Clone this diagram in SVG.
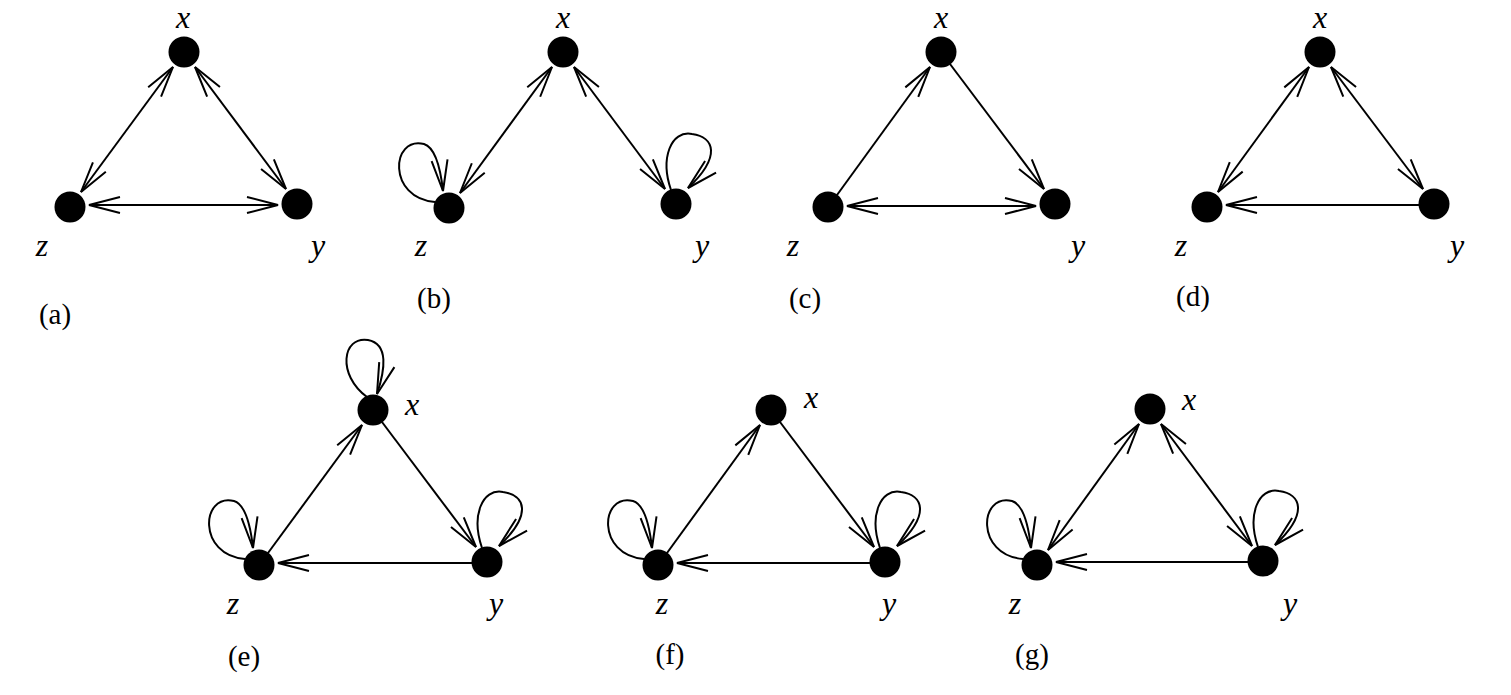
<svg xmlns="http://www.w3.org/2000/svg" width="1511" height="695" viewBox="0 0 1511 695">
<style>
.edge{fill:none;stroke:#000;stroke-width:2}
.node{fill:#000}
.lbl{font-family:"Liberation Serif",serif;font-style:italic;font-size:32px;text-anchor:middle;fill:#000}
.cap{font-family:"Liberation Serif",serif;font-size:29px;text-anchor:middle;fill:#000}
</style>
<defs>
<marker id="ah" markerUnits="userSpaceOnUse" viewBox="-34 -10 36 20" refX="0" refY="0" markerWidth="36" markerHeight="20" orient="auto-start-reverse" overflow="visible">
<path d="M -31 -8 L 0 0 L -31 8" fill="none" stroke="#000" stroke-width="2"/>
</marker>
</defs>
<rect width="1511" height="695" fill="#fff"/>
<g id="connectors">
<!-- (a) -->
<path class="edge" d="M 173 67 L 81 192" marker-start="url(#ah)" marker-end="url(#ah)"/>
<path class="edge" d="M 195 67 L 286 189" marker-start="url(#ah)" marker-end="url(#ah)"/>
<path class="edge" d="M 89 205 L 278 205" marker-start="url(#ah)" marker-end="url(#ah)"/>
<!-- (b) -->
<path class="edge" d="M 552 67 L 460 193" marker-start="url(#ah)" marker-end="url(#ah)"/>
<path class="edge" d="M 574 67 L 665 189" marker-start="url(#ah)" marker-end="url(#ah)"/>
<path class="edge" transform="translate(449,208)" d="M -14 -6 C -62 -10 -58 -72 -25 -64 C -12 -60 -8 -35 -6 -17" marker-end="url(#ah)"/>
<path class="edge" transform="translate(676,204)" d="M -5 -14 C -16 -46 -5 -74 16 -70 C 38 -67 46 -48 12 -16" marker-end="url(#ah)"/>
<!-- (c) -->
<path class="edge" d="M 837 195 L 930 67" marker-end="url(#ah)"/>
<path class="edge" d="M 950 64 L 1044 189" marker-end="url(#ah)"/>
<path class="edge" d="M 847 206 L 1036 206" marker-start="url(#ah)" marker-end="url(#ah)"/>
<!-- (d) -->
<path class="edge" d="M 1309 67 L 1218 192" marker-start="url(#ah)" marker-end="url(#ah)"/>
<path class="edge" d="M 1331 67 L 1423 189" marker-start="url(#ah)" marker-end="url(#ah)"/>
<path class="edge" d="M 1419 205 L 1226 205" marker-end="url(#ah)"/>
<!-- (e) -->
<path class="edge" d="M 268 553 L 362 425" marker-end="url(#ah)"/>
<path class="edge" d="M 382 422 L 476 547" marker-end="url(#ah)"/>
<path class="edge" d="M 472 563 L 278 563" marker-end="url(#ah)"/>
<path class="edge" transform="translate(373,410)" d="M -6 -13 C -36 -35 -31 -74 -5 -70 C 16 -66 12 -40 4 -16" marker-end="url(#ah)"/>
<path class="edge" transform="translate(259,565)" d="M -14 -6 C -62 -10 -58 -72 -25 -64 C -12 -60 -8 -35 -6 -17" marker-end="url(#ah)"/>
<path class="edge" transform="translate(487,562)" d="M -5 -14 C -16 -46 -5 -74 16 -70 C 38 -67 46 -48 12 -16" marker-end="url(#ah)"/>
<!-- (f) -->
<path class="edge" d="M 667 553 L 760 425" marker-end="url(#ah)"/>
<path class="edge" d="M 780 422 L 874 547" marker-end="url(#ah)"/>
<path class="edge" d="M 870 563 L 677 563" marker-end="url(#ah)"/>
<path class="edge" transform="translate(658,565)" d="M -14 -6 C -62 -10 -58 -72 -25 -64 C -12 -60 -8 -35 -6 -17" marker-end="url(#ah)"/>
<path class="edge" transform="translate(885,562)" d="M -5 -14 C -16 -46 -5 -74 16 -70 C 38 -67 46 -48 12 -16" marker-end="url(#ah)"/>
<!-- (g) -->
<path class="edge" d="M 1139 424 L 1048 550" marker-start="url(#ah)" marker-end="url(#ah)"/>
<path class="edge" d="M 1161 424 L 1252 546" marker-start="url(#ah)" marker-end="url(#ah)"/>
<path class="edge" d="M 1248 562 L 1056 562" marker-end="url(#ah)"/>
<path class="edge" transform="translate(1037,565)" d="M -14 -6 C -62 -10 -58 -72 -25 -64 C -12 -60 -8 -35 -6 -17" marker-end="url(#ah)"/>
<path class="edge" transform="translate(1263,561)" d="M -5 -14 C -16 -46 -5 -74 16 -70 C 38 -67 46 -48 12 -16" marker-end="url(#ah)"/>
</g>
<g id="a-x"><circle class="node" cx="184" cy="52" r="15.5"/><text class="lbl" x="183" y="28">x</text></g>
<g id="a-y"><circle class="node" cx="297" cy="204" r="15.5"/><text class="lbl" x="318" y="256">y</text></g>
<g id="a-z"><circle class="node" cx="70" cy="207" r="15.5"/><text class="lbl" x="42" y="256">z</text></g>
<text id="cap-a" class="cap" x="55" y="324">(a)</text>
<g id="b-x"><circle class="node" cx="563" cy="52" r="15.5"/><text class="lbl" x="563" y="28">x</text></g>
<g id="b-y"><circle class="node" cx="676" cy="204" r="15.5"/><text class="lbl" x="702" y="256">y</text></g>
<g id="b-z"><circle class="node" cx="449" cy="208" r="15.5"/><text class="lbl" x="421" y="256">z</text></g>
<text id="cap-b" class="cap" x="434" y="308">(b)</text>
<g id="c-x"><circle class="node" cx="941" cy="52" r="15.5"/><text class="lbl" x="941" y="28">x</text></g>
<g id="c-y"><circle class="node" cx="1055" cy="204" r="15.5"/><text class="lbl" x="1078" y="256">y</text></g>
<g id="c-z"><circle class="node" cx="828" cy="207" r="15.5"/><text class="lbl" x="793" y="256">z</text></g>
<text id="cap-c" class="cap" x="805" y="308">(c)</text>
<g id="d-x"><circle class="node" cx="1320" cy="52" r="15.5"/><text class="lbl" x="1320" y="28">x</text></g>
<g id="d-y"><circle class="node" cx="1434" cy="204" r="15.5"/><text class="lbl" x="1457" y="256">y</text></g>
<g id="d-z"><circle class="node" cx="1207" cy="207" r="15.5"/><text class="lbl" x="1181" y="256">z</text></g>
<text id="cap-d" class="cap" x="1193" y="306">(d)</text>
<g id="e-x"><circle class="node" cx="373" cy="410" r="15.5"/><text class="lbl" x="412" y="415">x</text></g>
<g id="e-y"><circle class="node" cx="487" cy="562" r="15.5"/><text class="lbl" x="496" y="614">y</text></g>
<g id="e-z"><circle class="node" cx="259" cy="565" r="15.5"/><text class="lbl" x="233" y="614">z</text></g>
<text id="cap-e" class="cap" x="244" y="666">(e)</text>
<g id="f-x"><circle class="node" cx="771" cy="410" r="15.5"/><text class="lbl" x="811" y="408">x</text></g>
<g id="f-y"><circle class="node" cx="885" cy="562" r="15.5"/><text class="lbl" x="889" y="614">y</text></g>
<g id="f-z"><circle class="node" cx="658" cy="565" r="15.5"/><text class="lbl" x="662" y="614">z</text></g>
<text id="cap-f" class="cap" x="670" y="664">(f)</text>
<g id="g-x"><circle class="node" cx="1150" cy="409" r="15.5"/><text class="lbl" x="1189" y="410">x</text></g>
<g id="g-y"><circle class="node" cx="1263" cy="561" r="15.5"/><text class="lbl" x="1290" y="614">y</text></g>
<g id="g-z"><circle class="node" cx="1037" cy="565" r="15.5"/><text class="lbl" x="1015" y="614">z</text></g>
<text id="cap-g" class="cap" x="1032" y="664">(g)</text>
</svg>
